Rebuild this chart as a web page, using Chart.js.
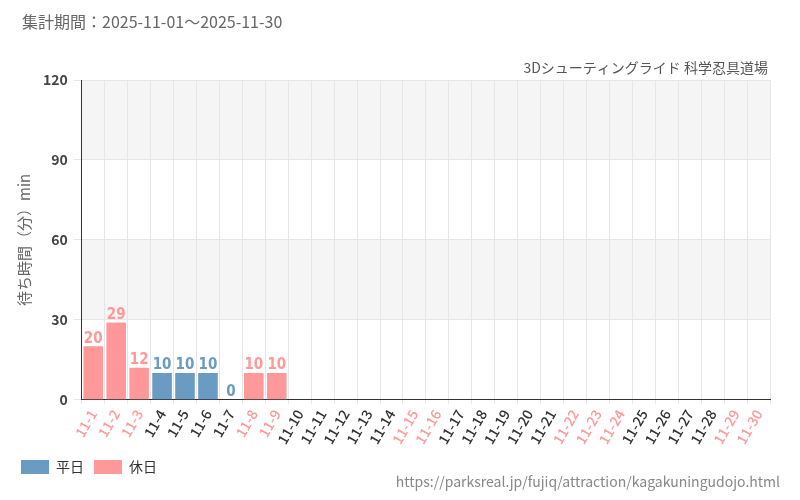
<!DOCTYPE html>
<html>
<head>
<meta charset="utf-8">
<script src="https://cdn.jsdelivr.net/npm/chart.js@4"></script>
<style>
  body { margin: 0; background: #fff; }
  #wrap { width: 800px; height: 500px; position: relative; }
</style>
</head>
<body>
<div id="wrap"><canvas id="myChart" width="800" height="500"></canvas></div>
<script>
const days = [];
for (let d = 1; d <= 30; d++) days.push('11-' + d);
const holidays = ['11-1', '11-2', '11-3', '11-8', '11-9', '11-15', '11-16', '11-22', '11-23', '11-24', '11-29', '11-30'];
const waitTimes = [20, 29, 12, 10, 10, 10, 0, 10, 10];
const yTicks = [0, 30, 60, 90, 120];

const blue = '#6a9bc3';
const pink = '#ff9999';
const FONT = "'Noto Sans CJK JP', 'Noto Sans', sans-serif";

const weekdayData = days.map((d, i) => (i < waitTimes.length && !holidays.includes(d)) ? waitTimes[i] : null);
const holidayData = days.map((d, i) => (i < waitTimes.length && holidays.includes(d)) ? waitTimes[i] : null);

const extras = {
  id: 'extras',
  beforeDraw(chart) {
    const { ctx, chartArea: a, scales: { y } } = chart;
    ctx.save();
    ctx.fillStyle = '#f5f5f5';
    [[90, 120], [30, 60]].forEach(([lo, hi]) => {
      ctx.fillRect(a.left, y.getPixelForValue(hi), a.right - a.left, y.getPixelForValue(lo) - y.getPixelForValue(hi));
    });
    ctx.restore();
  },
  afterDraw(chart) {
    const { ctx } = chart;
    ctx.save();
    ctx.font = '16px ' + FONT;
    ctx.fillStyle = '#666';
    ctx.textBaseline = 'middle';
    ctx.textAlign = 'left';
    ctx.fillText('集計期間：2025-11-01～2025-11-30', 22, 22);
    ctx.font = '14px ' + FONT;
    ctx.textAlign = 'right';
    ctx.fillStyle = '#555';
    ctx.fillText('3Dシューティングライド 科学忍具道場', 768, 68);
    ctx.fillStyle = '#888';
    ctx.font = '14px ' + FONT;
    ctx.fillText('https://parksreal.jp/fujiq/attraction/kagakuningudojo.html', 780, 482);
    // data labels
    ctx.textAlign = 'center';
    ctx.textBaseline = 'bottom';
    ctx.font = "bold 15px 'DejaVu Sans Condensed', 'Liberation Sans Narrow', sans-serif";
    chart.data.datasets.forEach((ds, di) => {
      chart.getDatasetMeta(di).data.forEach((bar, i) => {
        const v = ds.data[i];
        if (v === null) return;
        ctx.fillStyle = ds.backgroundColor;
        ctx.fillText(v, bar.x, bar.y);
      });
    });
    ctx.restore();
  }
};

new Chart(document.getElementById('myChart'), {
  type: 'bar',
  data: {
    labels: days,
    datasets: [
      { label: '平日', data: weekdayData, backgroundColor: blue },
      { label: '休日', data: holidayData, backgroundColor: pink }
    ]
  },
  options: {
    responsive: false,
    animation: false,
    layout: { padding: { top: 80, right: 30, left: 11, bottom: 16 } },
    datasets: { bar: { grouped: false, barPercentage: 0.9, categoryPercentage: 0.95 } },
    scales: {
      x: {
        grid: { color: '#e6e6e6', drawTicks: true, tickLength: 4 },
        border: { color: '#333' },
        ticks: {
          autoSkip: false,
          maxRotation: 60, minRotation: 60,
          font: { size: 14, family: FONT, weight: '500' },
          color: (c) => holidays.includes(days[c.index]) ? pink : '#333'
        }
      },
      y: {
        min: 0, max: 120,
        afterBuildTicks: (s) => { s.ticks = yTicks.map(v => ({ value: v })); },
        grid: { color: '#e6e6e6' },
        border: { color: '#333' },
        ticks: { font: { size: 14, family: FONT, weight: 'bold' }, color: '#444', padding: 6 },
        title: { display: true, text: '待ち時間（分）min', color: '#666', font: { size: 15, family: FONT } }
      }
    },
    plugins: {
      legend: {
        position: 'bottom', align: 'start',
        labels: { boxWidth: 28, boxHeight: 14, color: '#333', font: { size: 14, family: FONT } }
      },
      tooltip: { enabled: false }
    }
  },
  plugins: [extras]
});
</script>
</body>
</html>
